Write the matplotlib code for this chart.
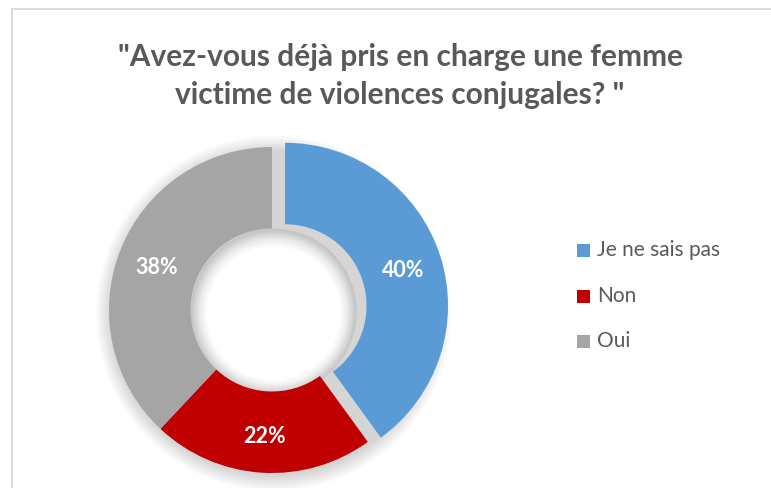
import matplotlib
matplotlib.use("Agg")
import matplotlib.pyplot as plt
from matplotlib.patches import Rectangle, Wedge
import numpy as np

categories = ["Je ne sais pas", "Non", "Oui"]
values = [40, 22, 38]
labels = ["40%", "22%", "38%"]
colors = ["#5B9BD5", "#C00000", "#A5A5A5"]
explode = [0.084, 0, 0]
title = "\"Avez-vous déjà pris en charge une femme\nvictime de violences conjugales? \""

plt.rcParams['font.family'] = ['Lato', 'DejaVu Sans']

W, H = 771, 488
fig = plt.figure(figsize=(W / 100, H / 100), dpi=100)
fig.patch.set_facecolor("white")

# border
fig.add_artist(Rectangle((11.5 / W, -0.1), 1.2, (H - 8.5) / H + 0.1,
                         transform=fig.transFigure, fill=False,
                         edgecolor="#D9D9D9", linewidth=1.3))

cx, cy, R = 272, 310, 163
ax = fig.add_axes([(cx - R) / W, (H - cy - R) / H, 2 * R / W, 2 * R / H])

wedges, _ = ax.pie(values, colors=colors, startangle=90, counterclock=False,
                   explode=explode, radius=1.0,
                   wedgeprops=dict(width=0.5, edgecolor="none"))
for w in wedges:
    w.set_zorder(2)

ax.set_xlim(-1, 1)
ax.set_ylim(-1, 1)
ax.set_aspect("equal")
ax.axis("off")

# soft shadow (outer glow and inner glow)
for i in range(14):
    r = 1.0 + 0.007 * i
    ax.add_patch(Wedge((0.01, -0.02), r, 0, 360, width=0.5 + 0.014 * i,
                       facecolor="black", alpha=0.01, edgecolor="none", zorder=0,
                       clip_on=False))
for i in range(8):
    ax.add_patch(Wedge((0.01, -0.01), 0.51, 0, 360, width=0.01 + 0.007 * i,
                       facecolor="black", alpha=0.008, edgecolor="none", zorder=1))

# labels
cum = 0
for v, lab, ex in zip(values, labels, explode):
    mid = 90 - (cum + v / 2) / sum(values) * 360
    cum += v
    rr = 0.76 + ex
    ax.text(rr * np.cos(np.radians(mid)), rr * np.sin(np.radians(mid)) - 0.02, lab,
            ha="center", va="center", color="white", fontsize=15.5,
            fontweight="bold", zorder=3)

fig.text(400 / W, 1 - 76 / H, title, ha="center", va="center",
         fontsize=21.5, fontweight="bold", color="#595959", linespacing=1.4)

# legend
leg_y = [250, 296, 341]
for cat, col, y in zip(categories, colors, leg_y):
    fig.add_artist(Rectangle((577 / W, 1 - (y + 6.5) / H), 13 / W, 13 / H,
                             transform=fig.transFigure, facecolor=col,
                             edgecolor="none"))
    fig.text(597 / W, 1 - y / H, cat, ha="left", va="center",
             fontsize=15, color="#595959")

fig.savefig("out.png", dpi=100)
